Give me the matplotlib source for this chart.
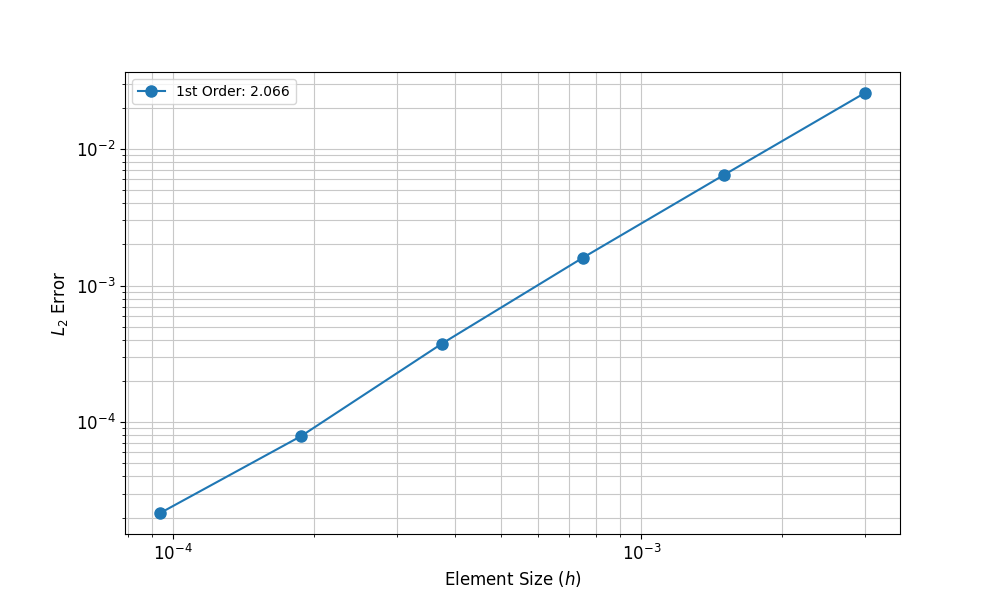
import matplotlib
matplotlib.use("Agg")
import matplotlib.pyplot as plt

# element sizes and L2 errors
h = [3.0e-3, 1.5e-3, 7.5e-4, 3.75e-4, 1.875e-4, 9.375e-5]
err = [2.57e-2, 6.45e-3, 1.60e-3, 3.76e-4, 7.9e-5, 2.16e-5]
label = '1st Order: 2.066'

fig, ax = plt.subplots(figsize=(10, 6), dpi=100)
ax.loglog(h, err, marker='o', markersize=8, color='#1f77b4', label=label)
ax.grid(True, which='both', color='#c8c8c8', linewidth=0.8)
ax.set_xlabel('Element Size ($h$)', fontsize=12)
ax.set_ylabel('$L_2$ Error', fontsize=12)
ax.tick_params(axis='both', which='major', labelsize=12)
ax.legend(loc='upper left')
fig.savefig('out.png')
